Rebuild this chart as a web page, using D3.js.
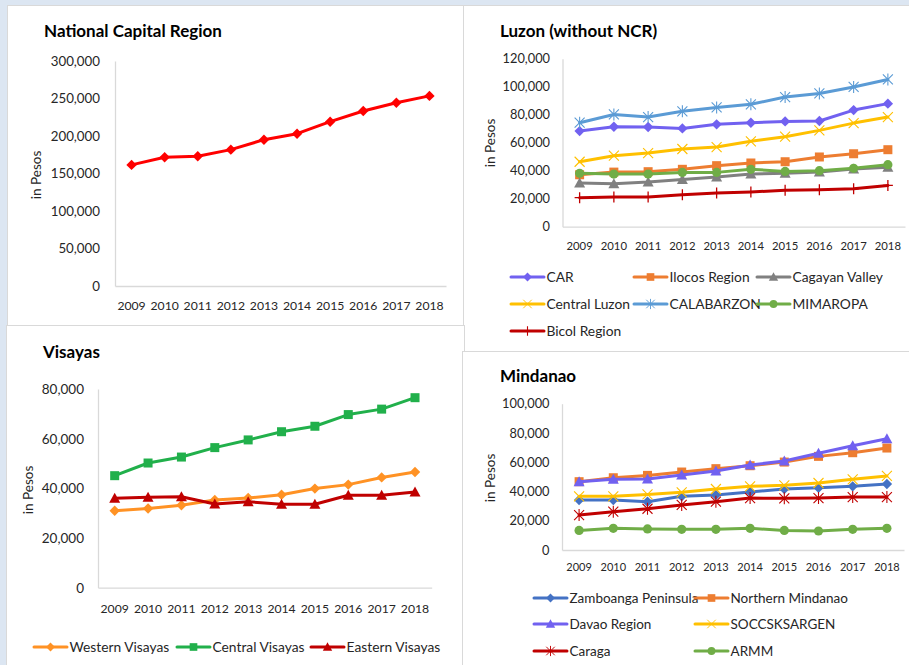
<!DOCTYPE html>
<html>
<head>
<meta charset="utf-8">
<script src="https://cdn.jsdelivr.net/npm/d3@7/dist/d3.min.js"></script>
<style>
  body { margin: 0; background: #dce6f2; }
  svg { display: block; font-family: Lato, "Liberation Sans", Arial, sans-serif; }
</style>
</head>
<body>
<svg id="chart" width="909" height="665"></svg>
<script>
// Average family income by region, in pesos
const years = [2009, 2010, 2011, 2012, 2013, 2014, 2015, 2016, 2017, 2018];

// National Capital Region
const ncr = [161500, 171600, 173000, 181800, 195100, 203100, 219100, 233300, 244400, 253500];

// Luzon (without NCR)
const car          = [68300, 71400, 71200, 70200, 73100, 74300, 75200, 75500, 83300, 87900];
const ilocos       = [37100, 39000, 39300, 41000, 43600, 45500, 46400, 49800, 52100, 55000];
const cagayan      = [31200, 30700, 31900, 33800, 35500, 37600, 38100, 39000, 41200, 42400];
const centralLuzon = [46400, 50700, 52600, 55500, 56900, 61000, 64300, 68800, 74000, 78300];
const calabarzon   = [74300, 80200, 78300, 82400, 85200, 87400, 92600, 95200, 99800, 105200];
const mimaropa     = [38100, 37600, 37600, 38800, 38800, 41000, 39500, 40000, 41700, 44300];
const bicol        = [20700, 21200, 21200, 22900, 24000, 24800, 26000, 26400, 27100, 29500];

// Visayas
const westernVisayas = [31000, 31900, 33200, 35300, 36100, 37400, 39900, 41500, 44400, 46600];
const centralVisayas = [45100, 50200, 52600, 56400, 59500, 62800, 65000, 69700, 71900, 76500];
const easternVisayas = [36000, 36400, 36600, 33700, 34600, 33600, 33600, 37200, 37200, 38500];

// Mindanao
const zamboanga    = [34200, 34200, 33000, 36700, 37600, 39600, 41700, 42600, 43500, 45100];
const northernMind = [46700, 49400, 51000, 53300, 55600, 57600, 60100, 64000, 66500, 69700];
const davao        = [46700, 48300, 48500, 51300, 54000, 58100, 60800, 66100, 71300, 76100];
const soccsksargen = [36700, 36700, 38000, 39400, 41700, 43500, 44200, 45800, 48300, 50600];
const caraga       = [23900, 26200, 28200, 30800, 33000, 35500, 35300, 35500, 36200, 36200];
const armm         = [13400, 14800, 14400, 14100, 14100, 14800, 13400, 13000, 14100, 14800];

// Axis tick values
const ncrTicks      = [0, 50000, 100000, 150000, 200000, 250000, 300000];
const luzonTicks    = [0, 20000, 40000, 60000, 80000, 100000, 120000];
const visayasTicks  = [0, 20000, 40000, 60000, 80000];
const mindanaoTicks = [0, 20000, 40000, 60000, 80000, 100000];

const svg = d3.select("#chart");
const fmt = d3.format(",");
const textColor = "#262626";
const FONT = "Lato, 'Liberation Sans', Arial, sans-serif";

// ---- marker drawing ----
function marker(g, shape, color, x, y, s) {
  s = s || 1;
  const m = g.append("g").attr("transform", `translate(${x},${y}) scale(${s})`);
  switch (shape) {
    case "diamond":
      m.append("path").attr("d", "M0,-5.2L5.2,0L0,5.2L-5.2,0Z").attr("fill", color);
      break;
    case "square":
      m.append("rect").attr("x", -4.5).attr("y", -4.5).attr("width", 9).attr("height", 9).attr("fill", color);
      break;
    case "triangle":
      m.append("path").attr("d", "M0,-5.5L5.5,4.5L-5.5,4.5Z").attr("fill", color);
      break;
    case "circle":
      m.append("circle").attr("r", 4.6).attr("fill", color);
      break;
    case "x":
      m.append("path").attr("d", "M-5,-5L5,5M-5,5L5,-5").attr("stroke", color).attr("stroke-width", 1.1).attr("fill", "none");
      break;
    case "star":
      m.append("path").attr("d", "M-5,-5L5,5M-5,5L5,-5M0,-6L0,6").attr("stroke", color).attr("stroke-width", 1.1).attr("fill", "none");
      break;
    case "plus":
      m.append("path").attr("d", "M0,-5.5L0,5.5M-5,0L5,0").attr("stroke", color).attr("stroke-width", 1.3).attr("fill", "none");
      break;
  }
}

// ---- panel frames ----
function frame(x, y, w, h) {
  svg.append("rect").attr("x", x + 0.5).attr("y", y + 0.5).attr("width", w).attr("height", h)
    .attr("fill", "#ffffff").attr("stroke", "#d9d9d9").attr("stroke-width", 1);
}

// ---- one chart panel ----
function panel(cfg) {
  const g = svg.append("g");
  const x = d3.scaleBand().domain(years).range([cfg.left, cfg.right]);
  const y = d3.scaleLinear().domain([0, cfg.max]).range([cfg.bottom, cfg.top]);

  // title
  g.append("text").attr("x", cfg.titleX).attr("y", cfg.titleY)
    .attr("font-size", 17).attr("font-weight", "bold").attr("fill", "#000")
    .text(cfg.title);

  // y axis
  const ya = g.append("g").attr("transform", `translate(${cfg.left},0)`)
    .call(d3.axisLeft(y).tickValues(cfg.ticks).tickFormat(fmt).tickSize(0).tickPadding(cfg.yPad));
  ya.select(".domain").attr("stroke", "#d9d9d9").attr("stroke-width", 1.3);
  ya.selectAll("text").attr("font-size", cfg.yFont).attr("fill", textColor).attr("font-family", FONT);

  // x axis
  const xa = g.append("g").attr("transform", `translate(0,${cfg.bottom})`)
    .call(d3.axisBottom(x).tickSize(0).tickPadding(cfg.xPad));
  xa.select(".domain").attr("stroke", "#d9d9d9").attr("stroke-width", 1.3);
  xa.selectAll("text").attr("font-size", cfg.xFont).attr("fill", textColor).attr("font-family", FONT);

  // y axis title
  g.append("text")
    .attr("transform", `translate(${cfg.yTitleX},${cfg.yTitleY}) rotate(-90)`)
    .attr("text-anchor", "middle").attr("font-size", 13.5).attr("fill", textColor)
    .text("in Pesos");

  // series lines and markers
  const line = d3.line()
    .x((d, i) => x(years[i]) + x.bandwidth() / 2)
    .y(d => y(d));
  cfg.series.forEach(s => {
    g.append("path").datum(s.values).attr("d", line)
      .attr("fill", "none").attr("stroke", s.color).attr("stroke-width", 3)
      .attr("stroke-linejoin", "round").attr("stroke-linecap", "round");
    s.values.forEach((v, i) => marker(g, s.shape, s.color, x(years[i]) + x.bandwidth() / 2, y(v)));
  });

  // legend
  if (cfg.legend) {
    cfg.series.forEach((s, i) => {
      const pos = cfg.legend[i];
      const lg = g.append("g");
      lg.append("line").attr("x1", pos[0]).attr("x2", pos[0] + 33)
        .attr("y1", pos[1]).attr("y2", pos[1])
        .attr("stroke", s.color).attr("stroke-width", 3).attr("stroke-linecap", "round");
      marker(lg, s.shape, s.color, pos[0] + 16.5, pos[1], 0.85);
      lg.append("text").attr("x", pos[0] + 35.5).attr("y", pos[1]).attr("dy", "0.35em")
        .attr("font-size", cfg.legendFont).attr("fill", textColor).text(s.name);
    });
  }
}

// frames
frame(7, 5, 456, 320);
frame(463, 5, 447, 346);
frame(6, 325, 458, 341);
frame(462, 351, 448, 315);

// National Capital Region
panel({
  title: "National Capital Region", titleX: 44, titleY: 37,
  left: 115, right: 446, top: 61, bottom: 286, max: 300000, ticks: ncrTicks,
  yPad: 15, yFont: 13.3, xPad: 15, xFont: 12.2, yTitleX: 41, yTitleY: 175,
  series: [{ name: "NCR", values: ncr, color: "#ff0000", shape: "diamond" }]
});

// Luzon
panel({
  title: "Luzon (without NCR)", titleX: 500, titleY: 37,
  left: 562.5, right: 905, top: 58.7, bottom: 226.7, max: 120000, ticks: luzonTicks,
  yPad: 12.5, yFont: 12.8, xPad: 15.5, xFont: 11.3, yTitleX: 495, yTitleY: 143,
  legendFont: 13.8,
  series: [
    { name: "CAR", values: car, color: "#7161f0", shape: "diamond" },
    { name: "Ilocos Region", values: ilocos, color: "#ed7d31", shape: "square" },
    { name: "Cagayan Valley", values: cagayan, color: "#808080", shape: "triangle" },
    { name: "Central Luzon", values: centralLuzon, color: "#ffc000", shape: "x" },
    { name: "CALABARZON", values: calabarzon, color: "#5b9bd5", shape: "star" },
    { name: "MIMAROPA", values: mimaropa, color: "#70ad47", shape: "circle" },
    { name: "Bicol Region", values: bicol, color: "#c00000", shape: "plus" }
  ],
  legend: [[511, 277], [634, 277], [757, 277], [511, 304], [634, 304], [757, 304], [511, 331]]
});

// Visayas
panel({
  title: "Visayas", titleX: 43, titleY: 358,
  left: 98, right: 431.7, top: 389, bottom: 587.7, max: 80000, ticks: visayasTicks,
  yPad: 14, yFont: 13.5, xPad: 16.5, xFont: 12.2, yTitleX: 33, yTitleY: 490,
  legendFont: 13.8,
  series: [
    { name: "Western Visayas", values: westernVisayas, color: "#ff9224", shape: "diamond" },
    { name: "Central Visayas", values: centralVisayas, color: "#21b04b", shape: "square" },
    { name: "Eastern Visayas", values: easternVisayas, color: "#c00000", shape: "triangle" }
  ],
  legend: [[34, 647], [177, 647], [311, 647]]
});

// Mindanao
panel({
  title: "Mindanao", titleX: 500, titleY: 382,
  left: 562, right: 904, top: 403.7, bottom: 550, max: 100000, ticks: mindanaoTicks,
  yPad: 12.5, yFont: 12.8, xPad: 13, xFont: 11, yTitleX: 495, yTitleY: 478,
  legendFont: 13.5,
  series: [
    { name: "Zamboanga Peninsula", values: zamboanga, color: "#4472c4", shape: "diamond" },
    { name: "Northern Mindanao", values: northernMind, color: "#ed7d31", shape: "square" },
    { name: "Davao Region", values: davao, color: "#7161f0", shape: "triangle" },
    { name: "SOCCSKSARGEN", values: soccsksargen, color: "#ffc000", shape: "x" },
    { name: "Caraga", values: caraga, color: "#c00000", shape: "star" },
    { name: "ARMM", values: armm, color: "#70ad47", shape: "circle" }
  ],
  legend: [[534, 598], [695, 598], [534, 624], [695, 624], [534, 651], [695, 651]]
});
</script>
</body>
</html>
